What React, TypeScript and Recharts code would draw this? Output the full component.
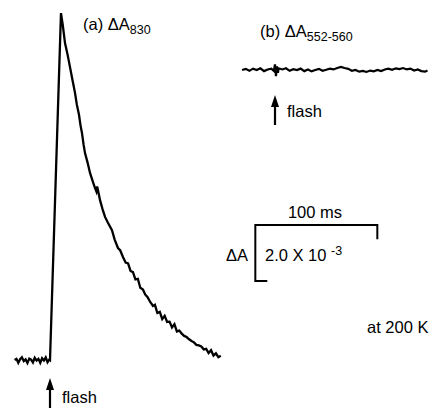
import React from "react";
import { LineChart, Line, XAxis, YAxis } from "recharts";

// Trace (a): ΔA830, time in ms relative to flash, ΔA in units of 10^-3
const timeA = [-29, -27.5, -26, -24.5, -23, -21.5, -20, -18.5, -17, -15.5, -14, -12.5, -11, -9.5, -8, -6.5, -5, -3.5, -2, -0.5, 0,
  9.0, 10.5, 12.3, 14.2, 16.4, 18.5, 20.5, 22.0, 23.8, 25.0, 26.2, 27.5, 28.7, 30.8, 32.8, 34.9, 36.9, 38.0, 38.6, 39.3,
  41, 43, 45.1, 47.5, 50.8, 53, 55.7, 57.5, 59.8, 62, 64, 66, 68, 70, 72, 74, 76.2, 78, 80, 82, 84.4, 86, 88, 90,
  92, 94, 96, 98, 100, 102, 104, 106, 108, 110, 112, 114, 116, 118, 120, 122, 124, 126, 128, 130, 132, 134, 136, 138, 140];
const valueA = [0.0, 0.04, -0.1, 0.03, 0.1, -0.04, 0.02, -0.11, 0.05, 0.01, -0.09, 0.08, -0.02, 0.04, -0.1, 0.06, -0.02, 0.09, -0.08, 0.02, 0.0,
  12.39, 11.95, 11.32, 10.95, 10.46, 9.98, 9.54, 9.12, 8.75, 8.38, 8.11, 7.7, 7.39, 7.05, 6.68, 6.4, 6.14, 6.02, 6.2, 6.07,
  5.71, 5.4, 5.11, 4.9, 4.64, 4.3, 4.0, 3.92, 3.68, 3.48, 3.45, 3.18, 3.14, 2.88, 2.9, 2.58, 2.52, 2.34, 2.24, 2.08, 1.93, 1.97, 1.68, 1.72,
  1.46, 1.58, 1.36, 1.37, 1.16, 1.28, 1.02, 1.05, 0.94, 0.86, 0.82, 0.74, 0.68, 0.63, 0.54, 0.52, 0.48, 0.38, 0.4, 0.25, 0.35, 0.16, 0.24, 0.1, 0.15];

// Trace (b): ΔA552-560
const timeB = [-27, -24, -21, -18, -15, -12, -9, -6, -3, -1, 0, 0.8, 1.6, 2.4, 3, 6, 9, 12, 15, 18, 21, 24, 27, 30, 33, 36, 39,
  42, 45, 48, 51, 54, 57, 60, 63, 66, 69, 72, 75, 78, 81, 84, 87, 90, 93, 96, 99, 102, 105, 108, 111, 114, 117, 120, 123, 125];
const valueB = [0.0, 0.04, -0.03, 0.05, 0.0, 0.06, -0.04, 0.02, 0.05, -0.03, 0.2, -0.22, 0.13, -0.1, 0.06, 0.02, 0.06, -0.03,
  0.03, 0.0, 0.05, -0.04, 0.02, -0.05, 0.0, 0.04, -0.03, 0.01, 0.05, 0.02, 0.07, 0.11, 0.07, 0.04, -0.03, 0.0, -0.06, -0.03,
  -0.07, -0.02, -0.05, 0.0, -0.04, 0.02, 0.05, 0.01, 0.06, 0.03, 0.07, 0.02, 0.05, -0.02, 0.02, -0.04, -0.06, -0.02];

// Scale bar: 100 ms by 2.0 x 10^-3
const SCALE_MS = 100;
const SCALE_DA = 2.0;
const SCALE_T0 = 168.3;
const SCALE_V_TOP = 4.82;

const W = 429;
const H = 408;
const PX_PER_MS = 1.22;
const PX_PER_UNIT = 28;
const FLASH_A_X = 50;
const FLASH_B_X = 275;
const BASE_A_Y = 360;
const BASE_B_Y = 70;

const dataA = timeA.map((t, i) => ({ t, v: valueA[i] }));
const dataB = timeB.map((t, i) => ({ t, v: valueB[i] }));
const scaleBar = [
  { t: SCALE_T0 + SCALE_MS, v: SCALE_V_TOP - 0.47 },
  { t: SCALE_T0 + SCALE_MS, v: SCALE_V_TOP },
  { t: SCALE_T0, v: SCALE_V_TOP },
  { t: SCALE_T0, v: SCALE_V_TOP - SCALE_DA },
  { t: SCALE_T0 + 9, v: SCALE_V_TOP - SCALE_DA },
];

const xDomA: [number, number] = [-FLASH_A_X / PX_PER_MS, (W - FLASH_A_X) / PX_PER_MS];
const xDomB: [number, number] = [-FLASH_B_X / PX_PER_MS, (W - FLASH_B_X) / PX_PER_MS];
const yDomA: [number, number] = [(BASE_A_Y - H) / PX_PER_UNIT, BASE_A_Y / PX_PER_UNIT];
const yDomB: [number, number] = [(BASE_B_Y - H) / PX_PER_UNIT, BASE_B_Y / PX_PER_UNIT];

const FONT = "'Liberation Sans', Arial, Helvetica, sans-serif";

function Arrow({ x, tip, bottom }: { x: number; tip: number; bottom: number }) {
  return (
    <g>
      <line x1={x} y1={tip + 8} x2={x} y2={bottom} stroke="#000" strokeWidth={2.2} />
      <path d={`M ${x} ${tip} L ${x - 4} ${tip + 12} L ${x + 4} ${tip + 12} Z`} fill="#000" />
    </g>
  );
}

export default function App() {
  return (
    <div style={{ position: "absolute", left: 0, top: 0, width: W, height: H, background: "#fff" }}>
      <LineChart width={W} height={H} margin={{ top: 0, right: 0, bottom: 0, left: 0 }}>
        <XAxis xAxisId="a" dataKey="t" type="number" domain={xDomA} allowDataOverflow hide />
        <XAxis xAxisId="b" dataKey="t" type="number" domain={xDomB} allowDataOverflow hide />
        <YAxis yAxisId="a" type="number" domain={yDomA} allowDataOverflow hide />
        <YAxis yAxisId="b" type="number" domain={yDomB} allowDataOverflow hide />
        <Line xAxisId="a" yAxisId="a" data={dataA} dataKey="v" type="linear" stroke="#000" strokeWidth={2.3} dot={false} isAnimationActive={false} />
        <Line xAxisId="b" yAxisId="b" data={dataB} dataKey="v" type="linear" stroke="#000" strokeWidth={2.2} dot={false} isAnimationActive={false} />
        <Line xAxisId="a" yAxisId="a" data={scaleBar} dataKey="v" type="linear" stroke="#000" strokeWidth={2} dot={false} isAnimationActive={false} strokeLinecap="square" />
      </LineChart>
      <svg width={W} height={H} style={{ position: "absolute", left: 0, top: 0, pointerEvents: "none" }} fontFamily={FONT} fill="#000">
        <text x={83} y={29.5} fontSize={16.5}>
          (a) ΔA<tspan fontSize={12.5} dy={4.5}>830</tspan>
        </text>
        <text x={260} y={36.5} fontSize={16.5}>
          (b) ΔA<tspan fontSize={12.5} dy={4}>552-560</tspan>
        </text>
        <Arrow x={FLASH_A_X} tip={378} bottom={408} />
        <text x={62} y={403} fontSize={16.5}>flash</text>
        <Arrow x={FLASH_B_X} tip={95} bottom={125} />
        <text x={287} y={117} fontSize={16.5}>flash</text>
        <text x={315} y={218} fontSize={16.5} textAnchor="middle">100 ms</text>
        <text x={226} y={261} fontSize={16.5}>ΔA</text>
        <text x={265} y={261} fontSize={16.5}>
          2.0 X 10 <tspan fontSize={12.5} dy={-6}>-3</tspan>
        </text>
        <text x={367} y={333} fontSize={16.5}>at 200 K</text>
      </svg>
    </div>
  );
}
